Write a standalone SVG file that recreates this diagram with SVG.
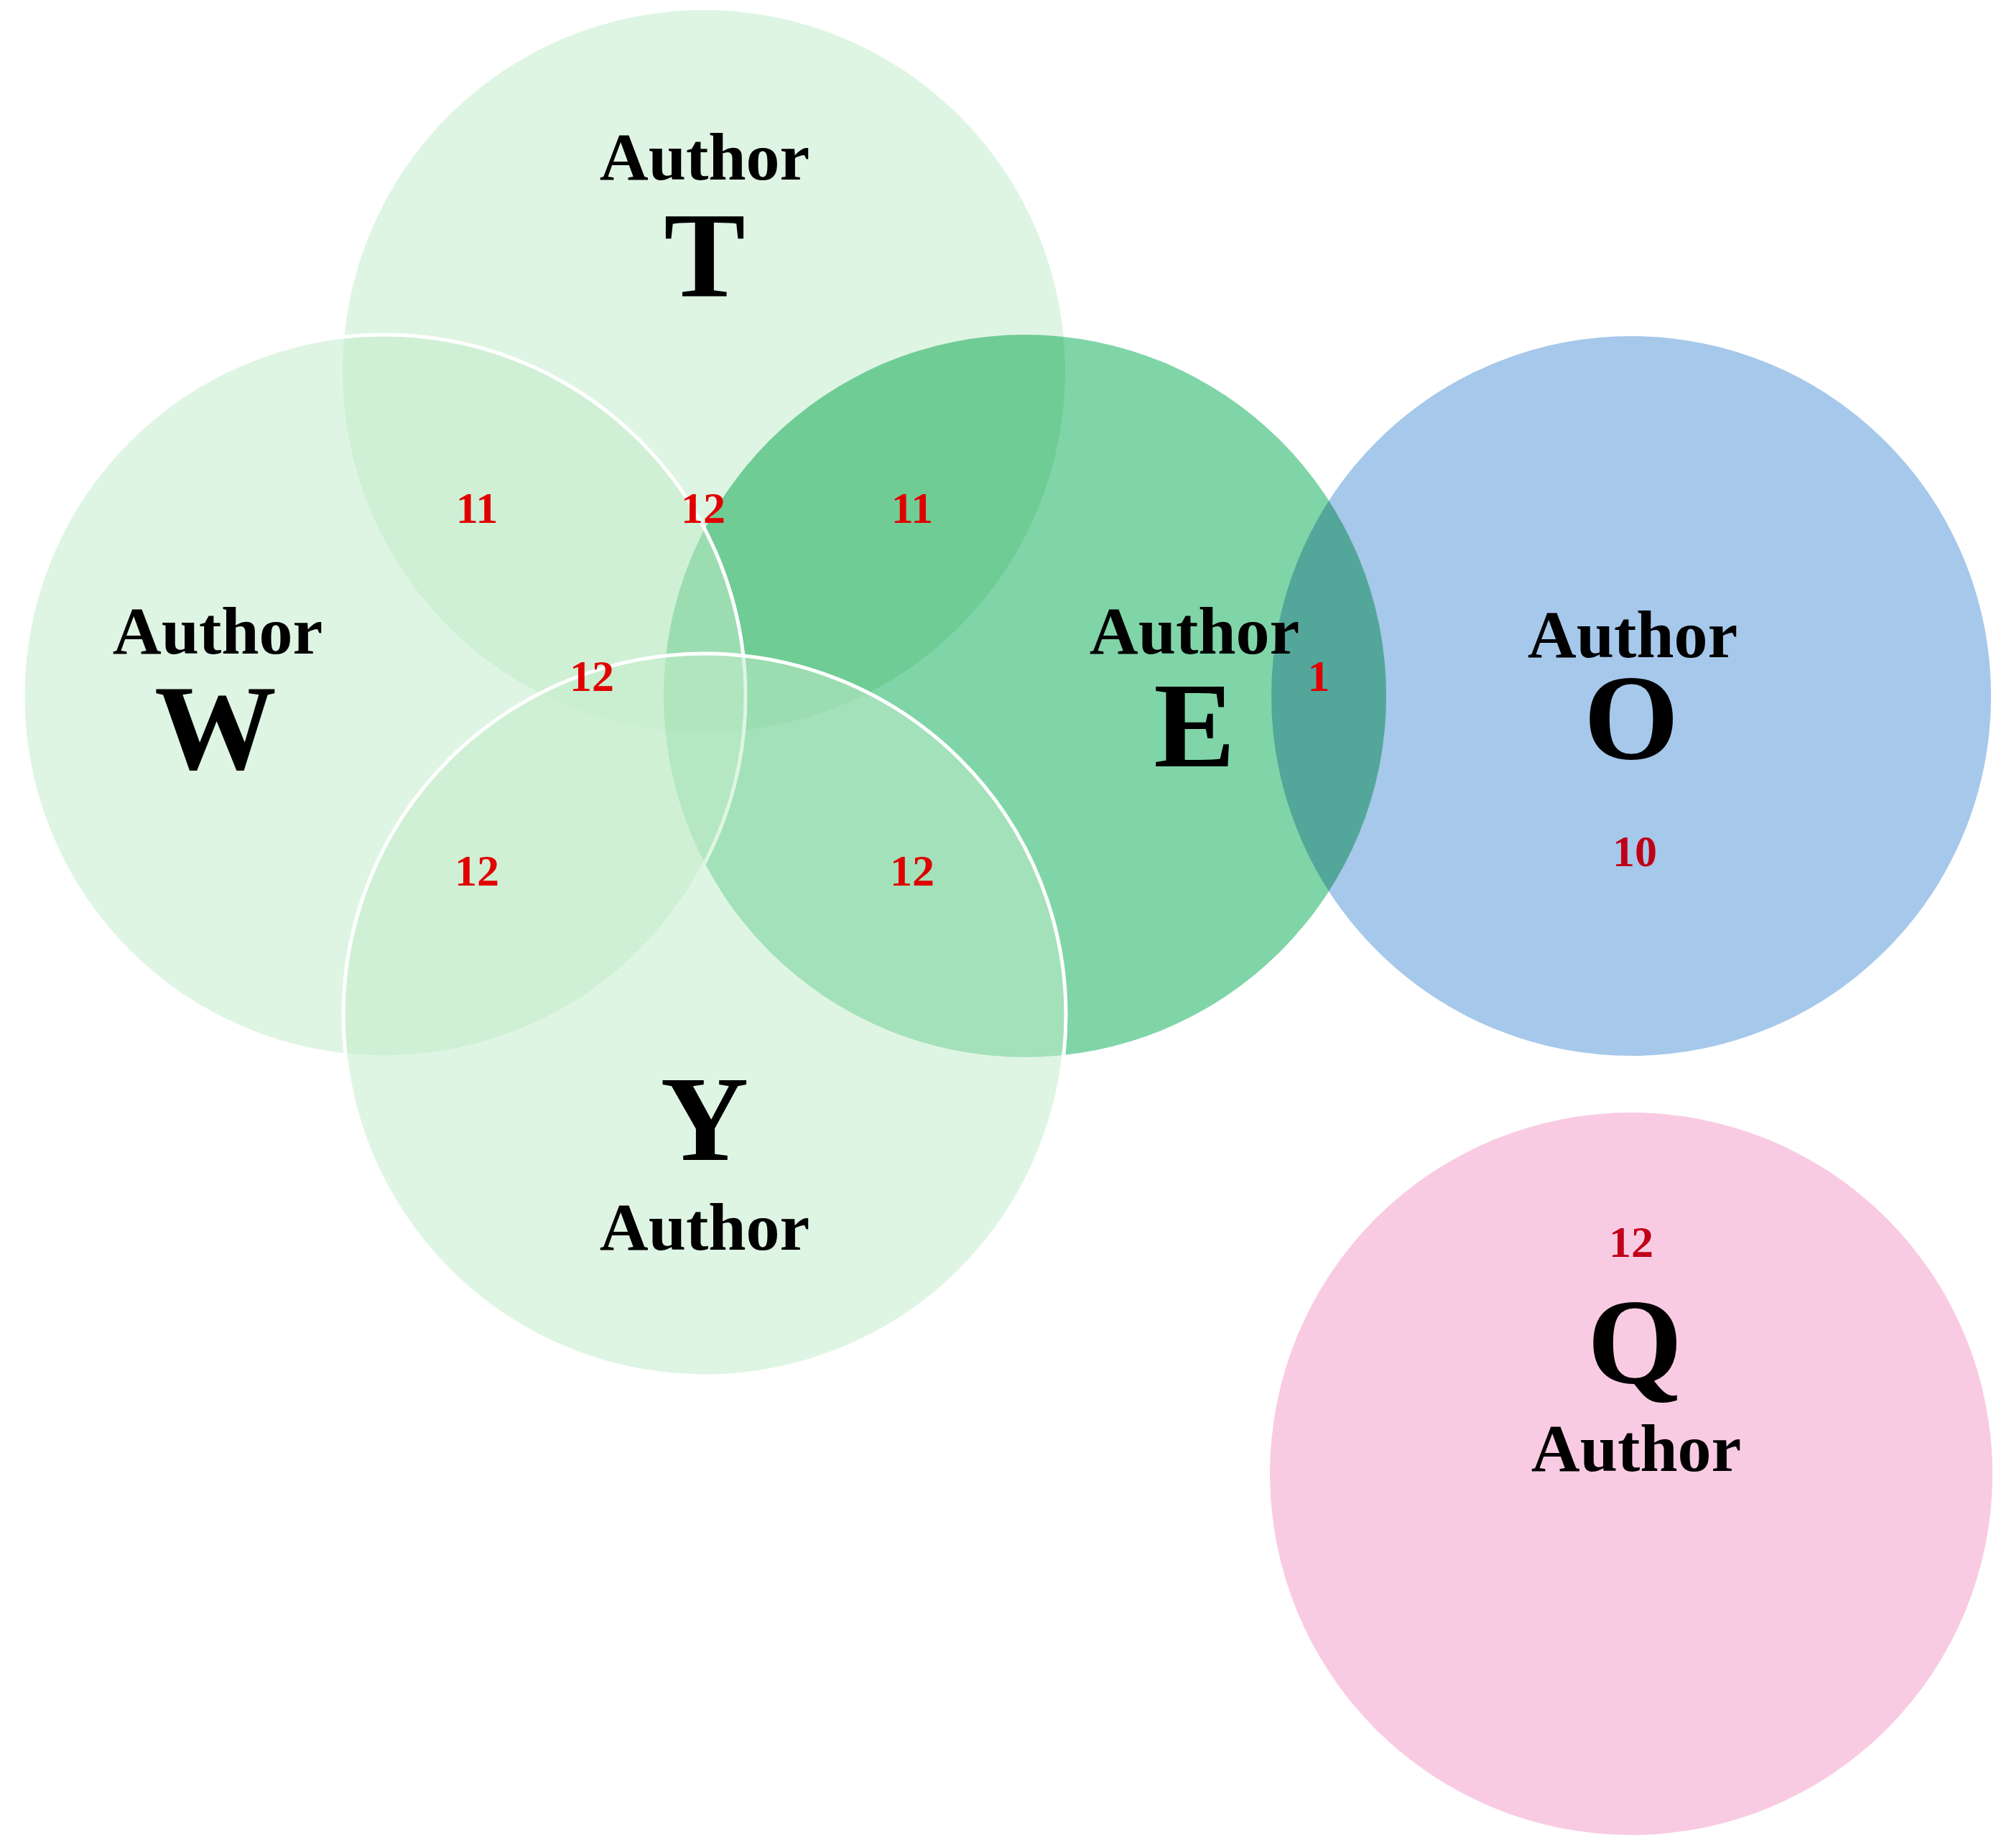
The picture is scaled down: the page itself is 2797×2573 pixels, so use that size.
<svg xmlns="http://www.w3.org/2000/svg" width="2797" height="2573" viewBox="0 0 2797 2573">
<style>
.lg{fill:#c3ecca;fill-opacity:0.53}
.ws{stroke:#fff;stroke-width:5}
.au{font-family:"Liberation Serif",serif;font-weight:bold;font-size:94px;text-anchor:middle;fill:#000}
.big{font-family:"Liberation Serif",serif;font-weight:bold;font-size:170px;text-anchor:middle;fill:#000}
.n{font-family:"Liberation Serif",serif;font-weight:bold;font-size:62px;text-anchor:middle;fill:#e00000}
.n2{font-family:"Liberation Serif",serif;font-weight:bold;font-size:62px;text-anchor:middle;fill:#c00018}
</style>
<rect width="2797" height="2573" fill="#fff"/>
<g id="T"><circle class="lg" cx="980" cy="517" r="503"/>
<text class="au" x="981" y="250">Author</text><text class="big" x="981" y="412">T</text></g>
<g id="E"><circle cx="1427" cy="969" r="503" fill="#80d5a8" style="mix-blend-mode:multiply"/>
<text class="au" x="1663" y="910">Author</text><text class="big" x="1663" y="1067">E</text></g>
<g id="W"><circle class="lg ws" cx="535" cy="969" r="503"/>
<text class="au" x="303" y="910">Author</text><text class="big" x="300" y="1070">W</text></g>
<g id="Y"><circle class="lg ws" cx="981" cy="1413" r="503"/>
<text class="big" x="981" y="1615">Y</text><text class="au" x="981" y="1740">Author</text></g>
<g id="O"><circle cx="2271" cy="969" r="503" fill="#a6c8ea" stroke="#fff" stroke-width="4" style="mix-blend-mode:multiply"/>
<text class="au" x="2273" y="915">Author</text><text class="big" x="2271" y="1056">O</text></g>
<g id="Q"><circle cx="2271" cy="2052" r="503" fill="#f9cbe3"/>
<text class="big" x="2276" y="1925">Q</text><text class="au" x="2278" y="2048">Author</text></g>
<g id="labels">
<text class="n" x="664" y="728">11</text>
<text class="n" x="979" y="728">12</text>
<text class="n" x="1270" y="728">11</text>
<text class="n" x="824" y="962">12</text>
<text class="n" x="1836" y="962">1</text>
<text class="n" x="664" y="1233">12</text>
<text class="n" x="1270" y="1233">12</text>
<text class="n2" x="2276" y="1206">10</text>
<text class="n2" x="2271" y="1750">12</text>
</g>
<g id="connectors"/>
</svg>
